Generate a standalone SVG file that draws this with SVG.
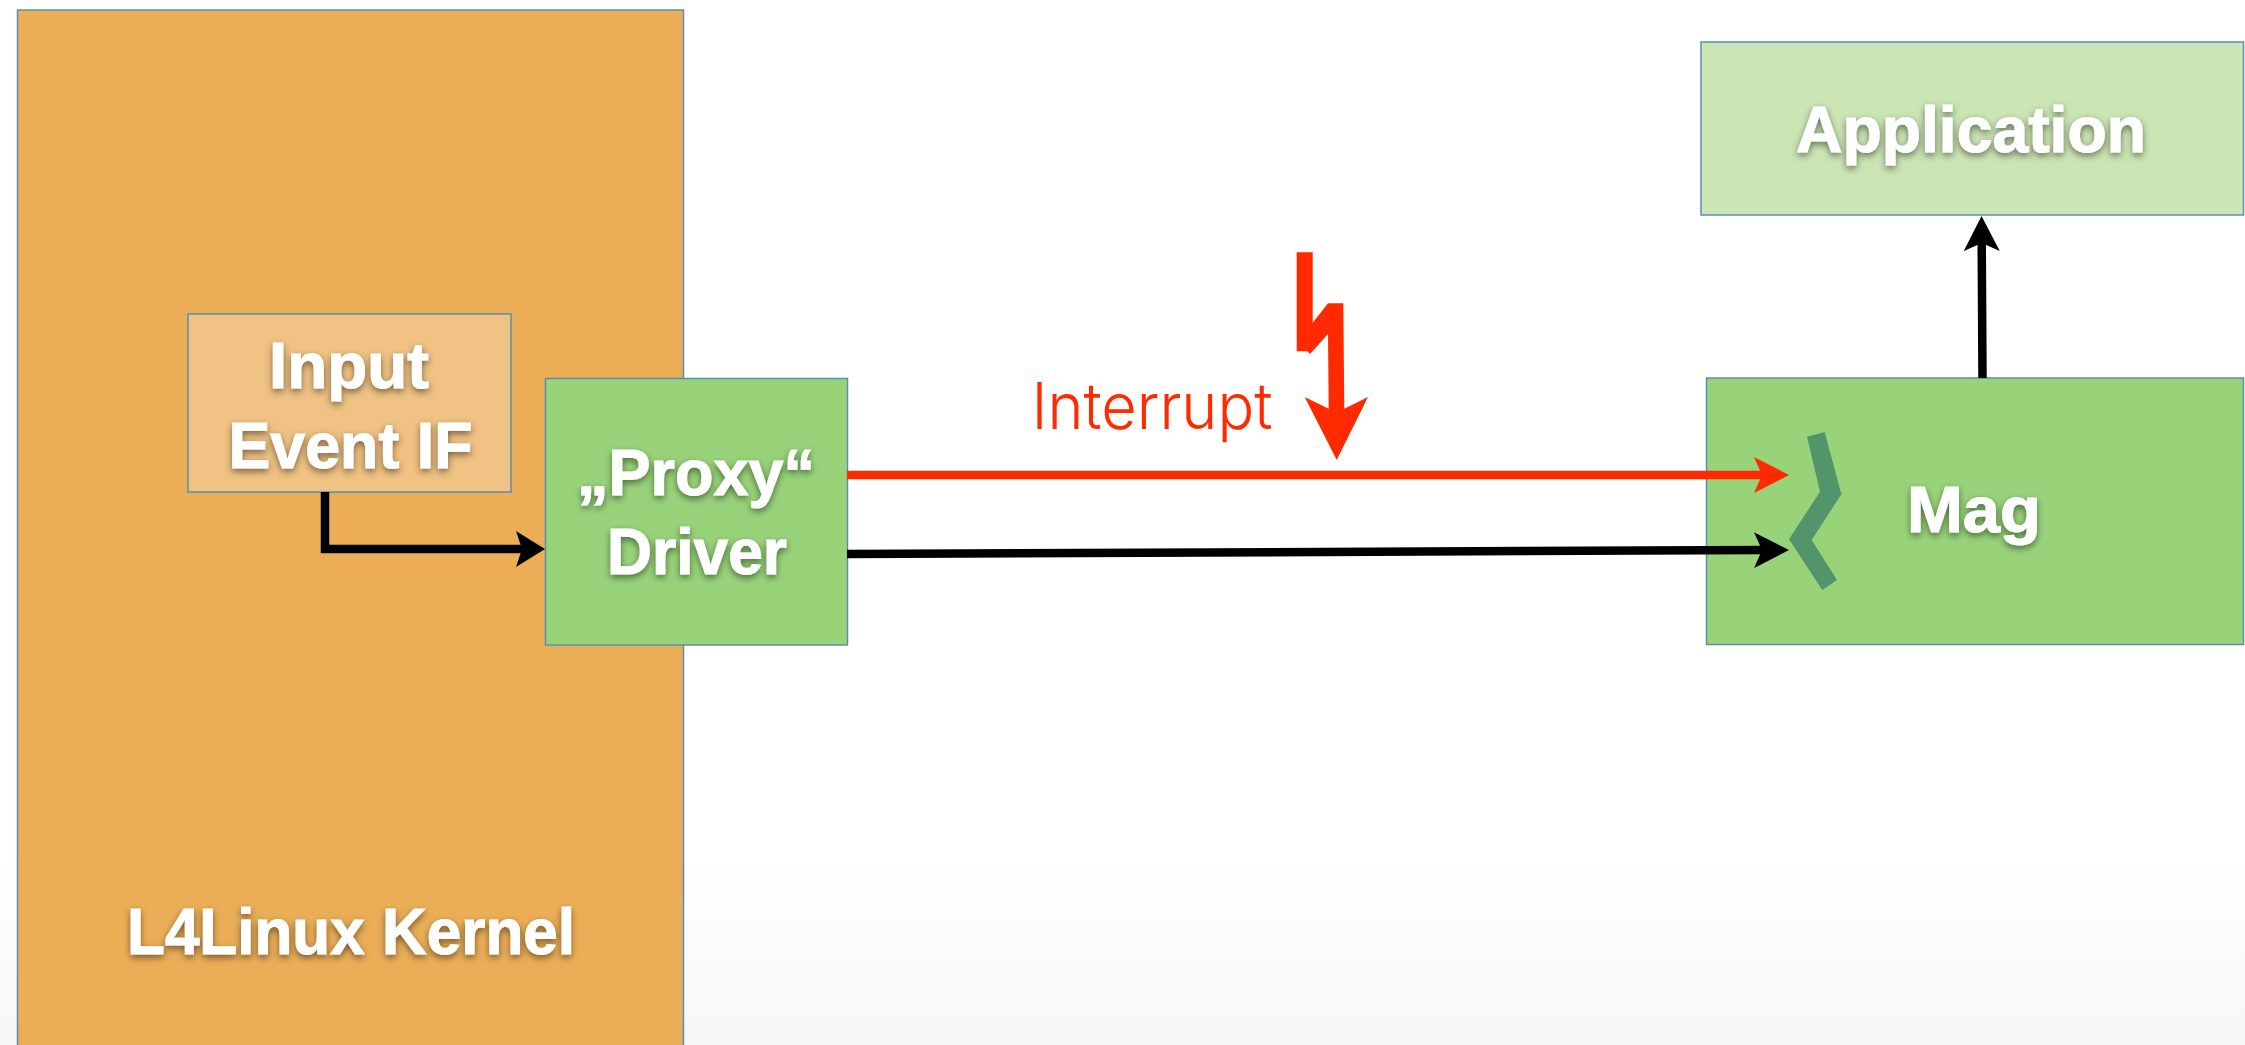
<svg xmlns="http://www.w3.org/2000/svg" width="2245" height="1045" viewBox="0 0 2245 1045">
<style>
.box{stroke:#5a8fb3;stroke-width:1.5}
.t{font-family:"Liberation Sans",Arial,sans-serif;font-weight:700;font-size:65px;fill:#fff;stroke:#fff;stroke-width:1;text-anchor:middle;filter:url(#sh)}
.c{fill:none;stroke:#000;stroke-width:8.500}
.r{stroke:#ff2a00}
</style>
<defs>
<linearGradient id="bg" x1="0" y1="0" x2="0" y2="1"><stop offset="0" stop-color="#fff"/><stop offset="1" stop-color="#f7f7f7"/></linearGradient>
<filter id="sh" x="-15%" y="-30%" width="130%" height="170%"><feDropShadow dx="0" dy="3" stdDeviation="3.500" flood-color="#000" flood-opacity=".5"/></filter>
<marker id="ak" markerUnits="userSpaceOnUse" markerWidth="36" markerHeight="36" refX="9" refY="18" orient="auto"><path d="M0,0L35,18L0,36L8,18z" fill="#000"/></marker>
<marker id="ar" markerUnits="userSpaceOnUse" markerWidth="36" markerHeight="36" refX="9" refY="18" orient="auto"><path d="M0,0L35,18L0,36L8,18z" fill="#ff2a00"/></marker>
<marker id="as" markerUnits="userSpaceOnUse" markerWidth="30" markerHeight="36" refX="7" refY="18" orient="auto"><path d="M0,0L29,18L0,36L6,18z" fill="#000"/></marker>
</defs>
<rect width="2245" height="1045" fill="#fff"/>
<rect y="850" width="2245" height="195" fill="url(#bg)"/>
<g id="kernel"><rect class="box" x="17.5" y="10" width="666" height="1040" fill="#ebae57"/><text class="t" x="351" y="954" textLength="448" lengthAdjust="spacingAndGlyphs">L4Linux Kernel</text></g>
<g id="input"><rect class="box" x="188" y="314" width="323" height="178" fill="#f0c283"/><text class="t" x="349" y="388" textLength="160" lengthAdjust="spacingAndGlyphs">Input</text><text class="t" x="350.500" y="468" textLength="244" lengthAdjust="spacingAndGlyphs">Event IF</text></g>
<g id="proxy"><rect class="box" x="545.5" y="378.5" width="302" height="266.500" fill="#98d37a"/><text class="t" x="696" y="495" textLength="238" lengthAdjust="spacingAndGlyphs">„Proxy“</text><text class="t" x="697" y="574" textLength="180" lengthAdjust="spacingAndGlyphs">Driver</text></g>
<g id="application"><rect class="box" x="1701" y="42" width="542.500" height="173" fill="#cbe5b5"/><text class="t" x="1971" y="152" textLength="350" lengthAdjust="spacingAndGlyphs">Application</text></g>
<g id="mag"><rect class="box" x="1706.500" y="378" width="537" height="266.500" fill="#98d37a"/><path d="M1807,436.700L1824.700,432L1840.700,491.700L1841.700,493.700L1811.700,540L1837,580L1822.300,590L1789,539.300L1820,491.700z" fill="#52956b"/><text class="t" x="1974" y="532" textLength="134" lengthAdjust="spacingAndGlyphs">Mag</text></g>
<g id="connectors">
<path class="c" d="M325,492V549H523" marker-end="url(#as)"/>
<path class="c r" d="M847,475H1763" marker-end="url(#ar)"/>
<path class="c" d="M847,554L1763,550.100" marker-end="url(#ak)"/>
<path class="c" d="M1982.500,378L1981.700,242" marker-end="url(#ak)"/>
</g>
<g id="interrupt"><path d="M1296.700,252.300H1312.700V322.700L1328,303.300H1343.300L1344.300,408.700L1368,397L1336.700,460L1304.700,397L1328.700,408.700L1328,334L1310,354L1307.300,351.300H1296.700z" fill="#ff2a00"/><text x="1152" y="429" text-anchor="middle" textLength="241" lengthAdjust="spacingAndGlyphs" style="font-family:Inter,'Liberation Sans',sans-serif;font-weight:300;font-size:64px;fill:#ff2a00">Interrupt</text></g>
</svg>
